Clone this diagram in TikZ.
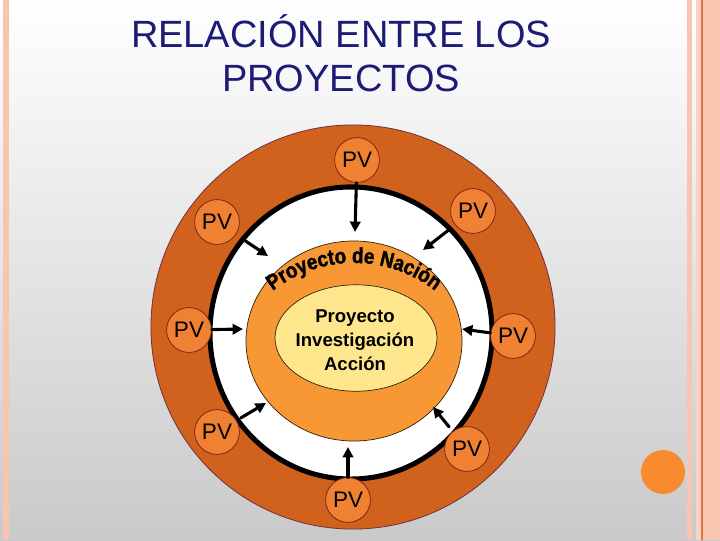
\documentclass[tikz,border=0pt]{standalone}
\usepackage{fontspec}
\setmainfont{Liberation Sans}
\newfontfamily\archfont[FakeBold=1.5,FakeStretch=0.86]{Liberation Sans Bold}
\usetikzlibrary{arrows.meta,decorations.text}
\definecolor{titleblue}{RGB}{28,28,118}
\definecolor{ringdark}{RGB}{208,98,30}
\definecolor{ringline}{RGB}{120,50,60}
\definecolor{midorange}{RGB}{248,152,52}
\definecolor{coreyellow}{RGB}{253,230,140}
\definecolor{pvfill}{RGB}{240,128,50}
\definecolor{pvline}{RGB}{110,30,30}
\definecolor{stripe}{RGB}{249,196,176}
\definecolor{stripeline}{RGB}{225,115,70}
\definecolor{dotorange}{RGB}{250,138,46}
\begin{document}
\begin{tikzpicture}[x=0.025cm,y=-0.025cm,>={Triangle[length=2.6mm,width=2.6mm]},line cap=round,
  pv/.style={circle,draw=pvline,line width=0.5pt,fill=pvfill,minimum size=1.12cm,inner sep=0pt,font=\fontsize{16}{16}\selectfont},
  link/.style={->,line width=2.2pt},
  heading/.style={anchor=base,text=titleblue,font=\fontsize{27}{31}\selectfont}]
\useasboundingbox (0,0) rectangle (720,540);
% page background and side stripes
\shade[top color=white,middle color=black!4,bottom color=black!21] (0,0) rectangle (720,540);
\fill[stripe] (3,0) rectangle (9,540);
\fill[stripe] (687,0) rectangle (692,540);
\fill[stripe!75] (696,0) rectangle (702,540);
\fill[stripe] (702,0) rectangle (720,540);
\draw[stripeline,line width=0.8pt] (702,0) -- (702,540);
\fill[dotorange] (663,472) circle[radius=0.55cm];

% title
\node[heading] (title1) at (341,47) {RELACIÓN ENTRE LOS};
\node[heading] (title2) at (341,91) {PROYECTOS};

% rings
\filldraw[fill=ringdark,draw=ringline,line width=0.6pt] (353,327) circle[radius=5.05cm];
\filldraw[fill=white,draw=black,line width=3.6pt] (351,333) ellipse[x radius=3.525cm,y radius=3.65cm];
\filldraw[fill=midorange,draw=black!75!brown,line width=0.5pt] (354,341) ellipse[x radius=2.7cm,y radius=2.5cm];
\path[decorate,decoration={text along path,text align=center,
  text={|\archfont\fontsize{15.5}{15.5}\selectfont|Proyecto de Nación}}]
  ([shift={(126:3.3cm)}]354,395) arc[start angle=126,end angle=54,radius=3.3cm];
\filldraw[fill=coreyellow,draw=black!75!brown,line width=0.5pt] (356,338) ellipse[x radius=2.025cm,y radius=1.33cm];
\node[align=center,font=\bfseries\fontsize{13.2}{17}\selectfont] (core) at (355,340) {Proyecto\\Investigación\\Acción};

% PV circles
\node[pv] (pvtop) at (357,160) {PV};
\node[pv] (pvtr) at (473,211) {PV};
\node[pv] (pvtl) at (217,222) {PV};
\node[pv] (pvl) at (189,330) {PV};
\node[pv] (pvr) at (513,336) {PV};
\node[pv] (pvbl) at (217,432) {PV};
\node[pv] (pvbr) at (467,449) {PV};
\node[pv] (pvb) at (348,500) {PV};

% arrow tips
\coordinate (ttop) at (355,232);
\coordinate (ttr) at (423,250);
\coordinate (ttl) at (268,256);
\coordinate (tl) at (243,329);
\coordinate (tr) at (462,329);
\coordinate (tbl) at (266,403);
\coordinate (tbr) at (433,407);
\coordinate (tb) at (348,447);

\draw[link] (pvtop) -- (ttop);
\draw[link,shorten <=6pt] (pvtr) -- (ttr);
\draw[link,shorten <=8pt] (pvtl) -- (ttl);
\draw[link] (pvl) -- (tl);
\draw[link] (pvr) -- (tr);
\draw[link,shorten <=3.5pt] (pvbl) -- (tbl);
\draw[link,shorten <=4pt] (pvbr) -- (tbr);
\draw[link] (pvb) -- (tb);
\end{tikzpicture}
\end{document}
